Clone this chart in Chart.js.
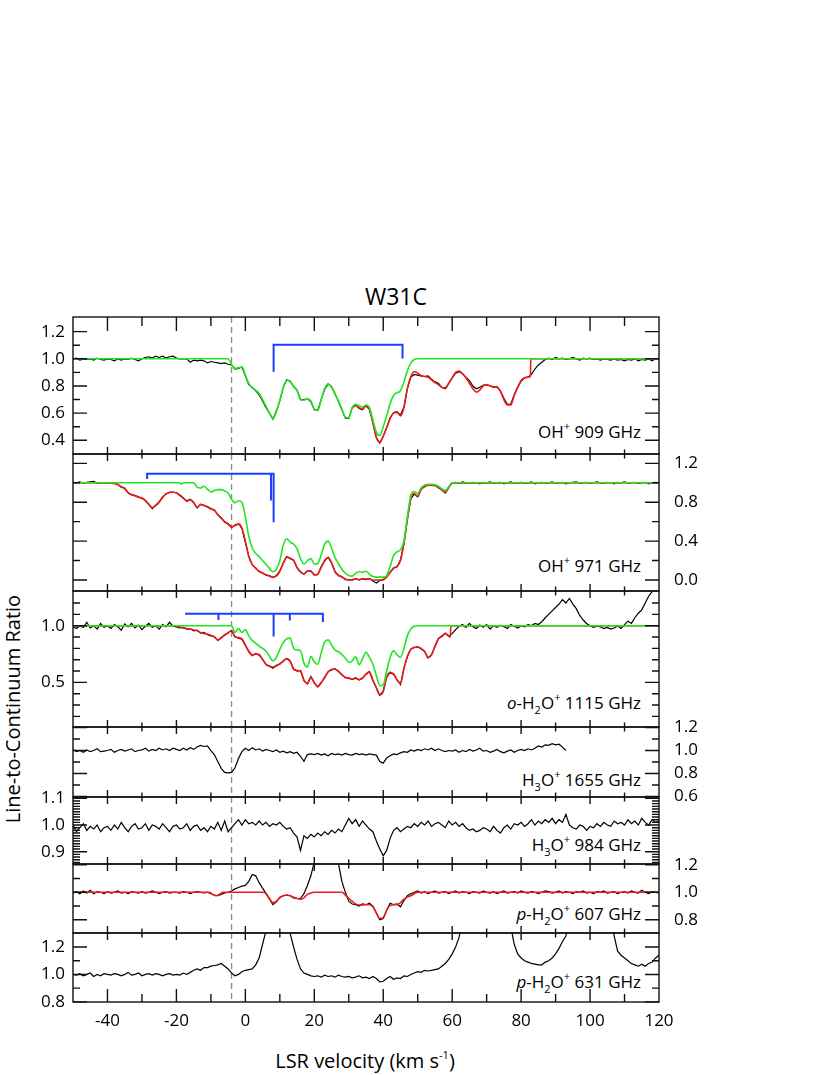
<!DOCTYPE html>
<html>
<head>
<meta charset="utf-8">
<title>W31C</title>
<script src="https://cdn.jsdelivr.net/npm/chart.js@4.4.0/dist/chart.umd.min.js"></script>
<style>
  body { margin: 0; background: #fff; }
  #wrap { position: relative; width: 830px; height: 1075px; font-family: 'Open Sans', sans-serif; color: #000; overflow: hidden; }
  #wrap canvas { position: absolute; left: 0; }
  .lbl { position: absolute; font-size: 17px; line-height: 20px; white-space: nowrap; }
  .lbl sup { font-size: 11px; line-height: 0; position: relative; top: -1px; vertical-align: super; }
  .lbl sub { font-size: 11px; line-height: 0; position: relative; top: 1px; vertical-align: sub; }
  #title { left: 296px; top: 282px; width: 200px; text-align: center; font-size: 23px; line-height: 28px; }
  #xtitle { left: 215px; top: 1049px; width: 300px; text-align: center; font-size: 20px; line-height: 24px; }
  #ytitle { left: -137px; top: 697px; width: 300px; text-align: center; font-size: 20px; line-height: 24px; transform: rotate(-90deg); }
</style>
</head>
<body>
<div id="wrap">
  <div class="lbl" id="title">W31C</div>
  <div class="lbl" id="xtitle">LSR velocity (km s<sup>-1</sup>)</div>
  <div class="lbl" id="ytitle">Line-to-Continuum Ratio</div>
  <div class="lbl" style="right:189px; top:422px">OH<sup>+</sup> 909 GHz</div>
  <div class="lbl" style="right:189px; top:556px">OH<sup>+</sup> 971 GHz</div>
  <div class="lbl" style="right:189px; top:693px"><i>o</i>-H<sub>2</sub>O<sup>+</sup> 1115 GHz</div>
  <div class="lbl" style="right:189px; top:770px">H<sub>3</sub>O<sup>+</sup> 1655 GHz</div>
  <div class="lbl" style="right:189px; top:835px">H<sub>3</sub>O<sup>+</sup> 984 GHz</div>
  <div class="lbl" style="right:189px; top:904px"><i>p</i>-H<sub>2</sub>O<sup>+</sup> 607 GHz</div>
  <div class="lbl" style="right:189px; top:972px"><i>p</i>-H<sub>2</sub>O<sup>+</sup> 631 GHz</div>
</div>
<script>
// ---- data ----
const velocity = [
  -50,-49,-48,-47,-46,-45,-44,-43,-42,-41,
  -40,-39,-38,-37,-36,-35,-34,-33,-32,-31,
  -30,-29,-28,-27,-26,-25,-24,-23,-22,-21,
  -20,-19,-18,-17,-16,-15,-14,-13,-12,-11,
  -10,-9,-8,-7,-6,-5,-4,-3,-2,-1,
  0,1,2,3,4,5,6,7,8,9,
  10,11,12,13,14,15,16,17,18,19,
  20,21,22,23,24,25,26,27,28,29,
  30,31,32,33,34,35,36,37,38,39,
  40,41,42,43,44,45,46,47,48,49,
  50,51,52,53,54,55,56,57,58,59,
  60,61,62,63,64,65,66,67,68,69,
  70,71,72,73,74,75,76,77,78,79,
  80,81,82,83,84,85,86,87,88,89,
  90,91,92,93,94,95,96,97,98,99,
  100,101,102,103,104,105,106,107,108,109,
  110,111,112,113,114,115,116,117,118,119,
  120
];

// OH+ 909 GHz
const oh909Obs = [
  1.000,1.005,0.990,1.000,0.995,1.000,0.990,1.005,0.995,0.990,
  1.000,0.995,0.985,1.000,0.990,1.000,0.995,1.005,0.995,0.985,
  1.000,1.010,1.015,1.005,1.020,1.010,1.020,1.005,1.015,1.020,
  1.005,1.000,1.000,1.000,0.975,0.990,0.985,0.990,0.985,0.970,
  0.980,0.975,0.970,0.965,0.970,0.960,0.955,0.925,0.930,0.940,
  0.875,0.810,0.790,0.765,0.735,0.690,0.640,0.600,0.555,0.615,
  0.690,0.790,0.845,0.835,0.795,0.770,0.700,0.700,0.705,0.685,
  0.625,0.620,0.700,0.775,0.815,0.795,0.745,0.685,0.625,0.565,
  0.560,0.640,0.660,0.635,0.625,0.655,0.625,0.530,0.420,0.380,
  0.430,0.495,0.565,0.605,0.610,0.585,0.645,0.780,0.865,0.885,
  0.880,0.875,0.870,0.875,0.850,0.830,0.820,0.790,0.785,0.820,
  0.860,0.895,0.905,0.890,0.865,0.840,0.800,0.780,0.790,0.805,
  0.810,0.800,0.790,0.795,0.765,0.710,0.665,0.665,0.735,0.790,
  0.835,0.860,0.865,0.885,0.925,0.955,0.975,0.995,1.005,0.995,
  1.010,1.000,1.005,0.995,1.000,1.010,1.000,0.990,1.005,1.000,
  1.005,0.995,1.000,0.990,1.000,0.995,0.990,1.000,0.990,0.995,
  0.985,0.995,0.990,1.000,0.985,0.995,0.990,1.000,0.985,1.000,
  0.995
];
const oh909FitV = [
  31,32,33,34,35,36,37,38,39,40,41,42,43,44,45,46,47,48,49,50,
  51,52,53,54,55,56,57,58,59,60,61,62,63,64,65,66,67,68,69,70,
  71,72,73,74,75,76,77,78,79,80,81,82,82.7,82.8,120
];
const oh909Fit = [
  0.64,0.655,0.64,0.63,0.655,0.63,0.53,0.42,0.385,0.43,0.49,0.56,0.60,0.605,0.58,0.64,0.78,0.87,0.905,0.895,
  0.875,0.87,0.865,0.845,0.825,0.81,0.79,0.78,0.82,0.86,0.90,0.91,0.89,0.86,0.82,0.78,0.755,0.77,0.80,0.81,
  0.80,0.795,0.79,0.76,0.70,0.66,0.66,0.73,0.79,0.84,0.86,0.865,0.87,1.0,1.0
];
const oh909PartV = [
  -50,-5,-4,-3,-2,-1,0,1,2,3,4,5,6,7,8,9,10,11,12,13,14,15,16,17,18,19,
  20,21,22,23,24,25,26,27,28,29,30,31,32,33,34,35,36,37,38,39,
  40,41,42,43,44,45,46,47,48,49,50,120
];
const oh909Part = [
  1.0,1.0,0.96,0.928,0.935,0.94,0.88,0.82,0.785,0.77,0.745,0.70,0.65,0.60,0.56,0.61,0.694,0.79,0.842,0.83,0.80,0.765,0.70,0.695,0.705,0.69,
  0.63,0.62,0.70,0.78,0.815,0.79,0.74,0.69,0.63,0.57,0.565,0.64,0.665,0.655,0.645,0.66,0.64,0.55,0.46,0.435,
  0.50,0.58,0.67,0.73,0.75,0.765,0.83,0.91,0.97,0.995,1.0,1.0
];
const oh909BracketV = [8.2, 8.2, 45.6, 45.6];
const oh909BracketY = [0.905, 1.104, 1.104, 1.002];

// OH+ 971 GHz
const oh971Obs = [
  1.005,1.000,1.010,0.995,1.005,1.010,1.015,0.995,1.000,1.000,
  1.000,0.995,0.990,0.985,0.955,0.945,0.895,0.875,0.870,0.850,
  0.845,0.815,0.775,0.735,0.770,0.805,0.855,0.885,0.905,0.900,
  0.900,0.870,0.840,0.815,0.830,0.795,0.740,0.780,0.765,0.755,
  0.735,0.720,0.670,0.640,0.595,0.580,0.540,0.565,0.580,0.530,
  0.390,0.245,0.155,0.125,0.085,0.075,0.050,0.045,0.025,0.045,
  0.095,0.175,0.240,0.220,0.205,0.125,0.085,0.060,0.095,0.090,
  0.055,0.055,0.135,0.195,0.235,0.175,0.090,0.045,0.035,0.005,
  0.005,0.000,0.015,0.000,0.015,0.005,0.015,-0.010,-0.030,-0.005,
  0.000,0.035,0.075,0.125,0.135,0.205,0.375,0.625,0.835,0.885,
  0.855,0.935,0.960,0.980,0.970,0.975,0.950,0.925,0.895,0.955,
  1.000,1.005,0.995,1.010,1.000,0.995,1.005,1.000,0.990,1.005,
  1.000,1.010,0.995,1.000,1.005,0.990,1.000,1.010,0.995,1.000,
  1.005,0.995,1.000,1.010,0.990,1.000,1.005,0.995,1.000,1.010,
  0.995,1.000,1.005,0.990,1.000,1.005,1.010,0.995,1.000,1.005,
  0.995,1.000,1.010,1.000,0.995,1.005,1.000,0.990,1.005,1.000,
  1.010,0.995,1.000,1.005,0.995,1.000,1.005,0.990,1.000,1.005,
  1.000
];
const oh971FitV = [
  -50,
  -40,-39,-38,-37,-36,-35,-34,-33,-32,-31,
  -30,-29,-28,-27,-26,-25,-24,-23,-22,-21,
  -20,-19,-18,-17,-16,-15,-14,-13,-12,-11,
  -10,-9,-8,-7,-6,-5,-4,-3,-2,-1,
  0,1,2,3,4,5,6,7,8,9,
  10,11,12,13,14,15,16,17,18,19,
  20,21,22,23,24,25,26,27,28,29,
  30,31,32,33,34,35,36,37,38,39,
  40,41,42,43,44,45,46,47,48,49,
  50,51,52,53,54,55,56,57,58,59,
  60,120
];
const oh971Fit = [
  1.0,
  1.0,1.0,0.995,0.98,0.96,0.94,0.90,0.88,0.865,0.855,
  0.84,0.82,0.78,0.745,0.765,0.80,0.85,0.885,0.90,0.905,
  0.895,0.875,0.845,0.81,0.825,0.80,0.745,0.775,0.77,0.75,
  0.73,0.715,0.675,0.635,0.60,0.575,0.545,0.56,0.575,0.535,
  0.40,0.24,0.16,0.12,0.09,0.07,0.055,0.04,0.03,0.04,
  0.09,0.17,0.235,0.225,0.20,0.13,0.08,0.065,0.09,0.095,
  0.05,0.06,0.13,0.20,0.23,0.18,0.085,0.05,0.03,0.01,
  0.0,0.005,0.01,0.005,0.01,0.01,0.01,0.0,0.0,0.0,
  0.005,0.03,0.08,0.12,0.14,0.20,0.38,0.62,0.84,0.89,
  0.86,0.93,0.965,0.975,0.975,0.97,0.955,0.93,0.90,0.95,
  0.995,1.0
];
const oh971PartV = [
  -50,-19,-18.5,-18,-15,
  -14,-13,-12,-11,-10,-9,-8,-7,-6,-5,
  -4,-3,-2,-1,0,1,2,3,4,5,
  6,7,8,9,10,11,12,13,14,15,
  16,17,18,19,20,21,22,23,24,25,
  26,27,28,29,30,31,32,33,34,35,
  36,37,38,39,40,41,42,43,44,45,
  46,47,48,49,50,51,52,53,54,55,
  56,57,58,59,60,120
];
const oh971Part = [
  1.0,1.0,0.985,1.0,1.0,
  0.955,0.945,0.965,0.935,0.905,0.92,0.93,0.93,0.915,0.895,
  0.83,0.795,0.815,0.80,0.65,0.45,0.33,0.275,0.24,0.20,
  0.16,0.12,0.085,0.11,0.20,0.36,0.425,0.39,0.37,0.32,
  0.22,0.165,0.20,0.22,0.165,0.17,0.26,0.37,0.40,0.33,
  0.23,0.17,0.11,0.07,0.045,0.04,0.07,0.085,0.08,0.09,
  0.06,0.035,0.03,0.03,0.03,0.045,0.14,0.25,0.29,0.31,
  0.40,0.65,0.87,0.91,0.89,0.95,0.975,0.985,0.985,0.98,
  0.965,0.94,0.92,0.96,1.0,1.0
];
const oh971BracketV = [-28.5, -28.5, 8.2, 8.2];
const oh971BracketY = [1.038, 1.093, 1.093, 0.595];
const oh971TickV = [7.45, 7.45];
const oh971TickY = [1.093, 0.819];

// o-H2O+ 1115 GHz
const h2o1115Obs = [
  0.990,0.975,1.000,0.985,1.030,0.980,1.000,0.970,1.020,0.985,
  1.000,0.975,1.010,0.990,0.960,1.015,0.990,1.020,0.980,1.005,
  0.965,0.995,1.020,0.985,1.000,0.970,1.010,0.990,1.030,0.995,
  0.990,0.980,0.985,0.970,0.975,0.955,0.960,0.935,0.940,0.920,
  0.910,0.905,0.870,0.895,0.915,0.940,0.955,0.905,0.890,0.880,
  0.825,0.775,0.735,0.755,0.740,0.705,0.655,0.645,0.625,0.650,
  0.660,0.690,0.710,0.685,0.620,0.600,0.605,0.515,0.485,0.550,
  0.495,0.460,0.500,0.540,0.595,0.610,0.620,0.595,0.570,0.540,
  0.540,0.525,0.540,0.520,0.540,0.570,0.595,0.515,0.455,0.385,
  0.425,0.545,0.590,0.570,0.525,0.480,0.625,0.725,0.795,0.805,
  0.815,0.795,0.775,0.715,0.745,0.815,0.885,0.905,0.935,0.905,
  0.930,0.965,0.995,1.010,0.985,1.020,0.990,0.975,1.005,0.985,
  1.010,0.970,1.000,0.985,1.005,0.990,0.975,1.010,0.995,0.980,
  1.000,0.990,1.010,1.000,1.020,1.010,1.035,1.070,1.100,1.130,
  1.160,1.190,1.230,1.200,1.240,1.190,1.150,1.090,1.050,1.020,
  1.000,0.985,0.995,0.990,0.975,0.985,0.970,0.980,1.000,0.975,
  1.010,1.040,1.020,1.070,1.110,1.140,1.200,1.260,1.300,1.340,
  1.380
];
const h2o1115FitV = [
  -50,
  -20,-19,-18,-17,-16,-15,-14,-13,-12,-11,
  -10,-9,-8,-7,-6,-5,-4,-3,-2,-1,
  0,1,2,3,4,5,6,7,8,9,
  10,11,12,13,14,15,16,17,18,19,
  20,21,22,23,24,25,26,27,28,29,
  30,31,32,33,34,35,36,37,38,39,
  40,41,42,43,44,45,46,47,48,49,
  50,51,52,53,54,55,56,57,58,59,
  59.5,59.6,120
];
const h2o1115Fit = [
  1.0,
  1.0,0.99,0.98,0.975,0.97,0.962,0.955,0.94,0.932,0.925,
  0.915,0.90,0.875,0.89,0.92,0.935,0.96,0.90,0.895,0.885,
  0.83,0.77,0.74,0.75,0.745,0.70,0.66,0.64,0.635,0.645,
  0.665,0.685,0.71,0.69,0.615,0.605,0.60,0.52,0.49,0.545,
  0.50,0.46,0.495,0.545,0.59,0.615,0.615,0.60,0.565,0.545,
  0.535,0.53,0.535,0.525,0.535,0.575,0.59,0.52,0.45,0.39,
  0.42,0.55,0.585,0.575,0.52,0.49,0.62,0.73,0.79,0.81,
  0.81,0.80,0.77,0.72,0.74,0.82,0.885,0.91,0.93,0.91,
  0.90,1.0,1.0
];
const h2o1115PartV = [
  -50,
  -4,-3,-2,-1,0,1,2,3,4,5,
  6,7,8,9,10,11,12,13,14,15,
  16,17,18,19,20,21,22,23,24,25,
  26,27,28,29,30,31,32,33,34,35,
  36,37,38,39,40,41,42,43,44,45,
  46,47,48,49,50,120
];
const h2o1115Part = [
  1.0,
  1.0,0.94,0.975,0.94,0.965,0.91,0.87,0.845,0.82,0.80,
  0.775,0.73,0.69,0.72,0.79,0.85,0.885,0.89,0.80,0.785,
  0.78,0.67,0.635,0.73,0.68,0.66,0.76,0.855,0.875,0.83,
  0.785,0.77,0.745,0.715,0.675,0.69,0.725,0.655,0.71,0.765,
  0.72,0.66,0.56,0.47,0.48,0.60,0.72,0.78,0.745,0.72,
  0.80,0.91,0.97,0.995,1.0,1.0
];
const h2o1115BracketV = [-17.5, -7.8, -7.8, -7.8, 8.2, 8.2, 8.2, 12.9, 12.9, 12.9, 22.5, 22.5];
const h2o1115BracketY = [1.106, 1.106, 1.05, 1.106, 1.106, 0.905, 1.106, 1.106, 1.046, 1.106, 1.106, 1.032];

// H3O+ 1655 GHz (ends near 94 km/s)
const h3o1655Obs = [
  1.010,0.990,1.000,0.985,1.005,0.990,1.000,1.015,0.990,0.995,
  1.000,1.010,0.985,1.000,1.010,0.995,1.005,1.015,0.990,1.000,
  1.005,1.020,0.995,1.010,1.000,1.020,1.005,1.015,1.000,1.020,
  1.010,1.000,1.020,1.005,1.025,1.010,1.030,1.045,1.035,1.040,
  1.000,0.965,0.905,0.845,0.810,0.805,0.810,0.850,0.930,0.990,
  1.020,1.000,1.025,1.005,1.015,0.995,1.010,1.000,0.990,1.005,
  0.985,0.995,0.980,0.990,0.975,0.985,0.950,0.905,0.965,0.970,
  0.965,0.975,0.960,0.970,0.955,0.975,0.965,0.970,0.960,0.975,
  0.965,0.960,0.975,0.965,0.970,0.960,0.970,0.965,0.960,0.905,
  0.890,0.935,0.955,0.970,0.965,0.980,0.990,0.985,1.005,0.995,
  1.010,1.000,1.015,1.005,1.020,1.000,1.015,1.000,0.990,1.000,
  0.995,1.005,0.985,1.000,0.990,1.010,0.995,1.005,1.020,0.995,
  1.000,0.985,0.995,1.010,0.990,0.980,0.995,1.005,0.985,1.000,
  1.010,1.000,1.015,1.005,1.020,1.040,1.030,1.050,1.045,1.060,
  1.050,1.055,1.030,1.000
];

// H3O+ 984 GHz
const h3o984Obs = [
  1.000,0.975,0.990,1.005,0.980,0.995,0.985,1.000,0.975,0.990,
  0.995,0.980,1.000,0.985,1.010,0.990,0.975,0.995,1.005,0.985,
  0.990,1.005,0.980,1.000,0.995,0.985,1.005,0.990,0.975,0.995,
  1.000,0.985,0.990,1.005,0.980,0.995,1.000,0.980,0.990,0.975,
  0.995,0.985,1.010,0.980,1.015,0.975,0.990,1.005,1.020,1.000,
  1.020,1.005,1.010,1.000,1.015,1.000,1.010,0.995,1.005,1.000,
  1.010,0.995,0.985,0.990,0.970,0.955,0.905,0.960,0.950,0.965,
  0.955,0.970,0.960,0.975,0.965,0.980,0.970,0.985,0.975,1.000,
  1.025,1.005,1.020,0.995,1.015,1.000,0.985,0.975,0.940,0.910,
  0.885,0.905,0.950,0.980,0.990,0.975,0.985,0.995,0.990,1.005,
  0.995,1.010,1.000,1.015,0.995,1.005,1.010,1.000,0.990,1.015,
  1.000,1.010,0.995,1.005,0.990,0.980,0.985,0.975,0.980,0.990,
  0.985,0.975,0.995,0.980,0.970,0.990,1.000,0.985,1.005,1.000,
  1.010,0.995,1.005,1.020,1.000,1.015,1.005,1.020,1.010,1.025,
  1.005,1.020,1.010,1.040,1.000,0.990,0.985,1.000,0.995,0.980,
  0.995,0.990,1.005,0.995,1.010,1.000,0.995,1.015,1.005,1.010,
  1.000,1.020,1.005,1.015,1.000,1.025,1.010,1.000,1.020,1.010,
  1.015
];

// p-H2O+ 607 GHz
const h2o607Obs = [
  0.995,1.005,0.990,1.010,0.995,1.015,0.990,1.005,1.000,0.990,
  1.005,0.995,1.000,1.010,0.995,1.000,0.990,1.005,1.000,0.995,
  1.005,0.995,1.000,1.010,1.000,0.990,1.000,1.005,0.995,1.000,
  1.000,0.995,1.005,1.000,0.990,1.000,1.005,1.000,0.995,1.000,
  0.990,0.980,0.975,0.985,0.995,1.000,1.010,1.025,1.035,1.045,
  1.050,1.080,1.130,1.120,1.070,1.030,0.990,0.950,0.910,0.930,
  0.965,0.975,0.980,0.975,0.960,0.955,0.955,0.990,1.050,1.120,
  1.220,1.400,1.500,1.500,1.500,1.500,1.400,1.210,1.080,1.000,
  0.935,0.915,0.910,0.900,0.915,0.910,0.920,0.900,0.850,0.800,
  0.810,0.870,0.920,0.910,0.915,0.895,0.940,0.975,0.990,1.000,
  1.010,0.995,1.005,0.990,1.000,1.010,0.995,1.000,1.005,0.990,
  1.000,1.010,0.995,1.005,1.000,0.990,1.005,1.000,0.995,1.010,
  1.000,0.995,1.005,0.990,1.000,1.010,0.995,1.000,1.005,0.995,
  1.010,1.000,0.995,1.005,1.000,0.990,1.000,1.010,1.005,0.995,
  1.000,1.010,0.995,1.005,1.000,0.990,1.005,1.000,1.010,0.995,
  1.000,0.990,1.005,1.000,1.010,0.995,1.000,1.005,0.990,1.000,
  1.005,0.995,1.010,1.000,0.995,1.015,1.000,0.990,1.005,1.000,
  0.995
];
const h2o607FitV = [
  -50,-10.5,-9.5,-8.5,-7.5,-6.5,5,
  6,7,8,9,10,11,12,13,14,15,16,17,18,19,20,
  27,
  28,29,30,31,32,33,34,35,36,37,38,39,40,41,42,43,44,45,46,47,48,49,50,
  120
];
const h2o607Fit = [
  1.0,1.0,0.985,0.975,0.985,1.0,1.0,
  0.99,0.955,0.925,0.935,0.96,0.975,0.98,0.975,0.965,0.955,0.95,0.96,0.985,0.995,1.0,
  1.0,
  1.0,0.98,0.955,0.935,0.915,0.908,0.908,0.91,0.91,0.895,0.85,0.81,0.815,0.87,0.905,0.91,0.91,0.925,0.95,0.965,0.975,0.99,1.0,
  1.0
];

// p-H2O+ 631 GHz
const h2o631Obs = [
  1.000,0.995,1.005,0.990,1.000,1.010,0.985,1.000,0.990,1.005,
  1.000,0.995,1.005,1.000,0.990,1.000,1.015,0.995,1.000,1.010,
  0.990,1.000,1.005,0.995,1.005,1.000,0.990,1.000,1.005,0.995,
  1.000,0.995,1.010,1.000,1.015,1.030,1.040,1.030,1.050,1.050,
  1.060,1.065,1.070,1.080,1.060,1.040,1.010,0.990,1.000,1.020,
  1.030,1.035,1.040,1.070,1.120,1.220,1.320,1.500,1.500,1.500,
  1.500,1.500,1.500,1.300,1.200,1.110,1.040,1.010,1.000,0.990,
  0.985,0.990,0.980,0.995,0.985,0.990,0.980,0.995,0.985,0.980,
  0.985,0.975,0.980,0.990,0.975,0.980,0.970,0.985,0.970,0.945,
  0.950,0.970,0.985,0.965,0.975,0.970,0.990,0.985,1.000,1.010,
  1.020,1.015,1.030,1.025,1.030,1.035,1.040,1.060,1.080,1.110,
  1.150,1.200,1.270,1.400,1.500,1.500,1.500,1.500,1.500,1.500,
  1.500,1.500,1.500,1.500,1.500,1.500,1.500,1.350,1.220,1.150,
  1.120,1.100,1.090,1.080,1.075,1.070,1.070,1.090,1.100,1.120,
  1.150,1.190,1.240,1.280,1.400,1.500,1.500,1.500,1.500,1.500,
  1.500,1.500,1.500,1.500,1.500,1.500,1.400,1.280,1.170,1.140,
  1.120,1.100,1.080,1.070,1.060,1.075,1.060,1.080,1.090,1.120,
  1.140
];

// axes
const xTickMarks = [-40, -30, -20, -10, 0, 10, 20, 30, 40, 50, 60, 70, 80, 90, 100, 110];
const xTickLabels = [-40, -20, 0, 20, 40, 60, 80, 100, 120];
const markerVelocity = -4;
const yMin = [0.299, -0.113, 0.106, 0.595, 0.854, 0.704, 0.799];
const yMax = [1.308, 1.296, 1.306, 1.205, 1.105, 1.206, 1.302];
const yLabelSide = ['left', 'right', 'left', 'right', 'left', 'right', 'left'];
const yTickLabels = [
  [0.4, 0.6, 0.8, 1.0, 1.2],
  [0.0, 0.4, 0.8, 1.2],
  [0.5, 1.0],
  [0.6, 0.8, 1.0, 1.2],
  [0.9, 1.0, 1.1],
  [0.8, 1.0, 1.2],
  [0.8, 1.0, 1.2]
];
const yMinorTicks = [
  [0.5, 0.7, 0.9, 1.1],
  [0.2, 0.6, 1.0],
  [0.2, 0.3, 0.4, 0.6, 0.7, 0.8, 0.9, 1.1, 1.2],
  [0.7, 0.9, 1.1],
  [0.86, 0.87, 0.88, 0.89, 0.91, 0.92, 0.93, 0.94, 0.95, 0.96, 0.97, 0.98, 0.99,
   1.01, 1.02, 1.03, 1.04, 1.05, 1.06, 1.07, 1.08, 1.09],
  [0.9, 1.1],
  [0.9, 1.1]
];

// ---- layout ----
const panelTop    = [317, 454, 591, 727, 797, 864, 933];
const panelBottom = [454, 591, 727, 797, 864, 933, 1002];
const PAD = 14;
const topTick    = [[14, 9], [7, 4.5], [7, 4.5], [7, 4.5], [7, 4.5], [7, 4.5], [7, 4.5]];
const bottomTick = [[7, 4.5], [7, 4.5], [7, 4.5], [7, 4.5], [7, 4.5], [7, 4.5], [13, 8]];

const BLACK = '#000000', RED = '#ee1c1c', GREEN = '#22e622', BLUE = '#1c3cff';
const FONT = "'Open Sans', sans-serif";

function pts(xs, ys) {
    const out = [];
    const n = Math.min(xs.length, ys.length);
    for (let i = 0; i < n; i++) out.push({ x: xs[i], y: ys[i] });
    return out;
}

function series(xs, ys, color, width, smooth) {
    return {
        data: pts(xs, ys),
        borderColor: color,
        borderWidth: width,
        pointRadius: 0,
        fill: false,
        tension: 0,
        cubicInterpolationMode: smooth ? 'monotone' : 'default'
    };
}

// first in the list is drawn on top
const panelSets = [
    [series(oh909BracketV, oh909BracketY, BLUE, 2),
     series(oh909PartV, oh909Part, GREEN, 1.6, true),
     series(oh909FitV, oh909Fit, RED, 1.6, true),
     series(velocity, oh909Obs, BLACK, 1.2)],
    [series(oh971BracketV, oh971BracketY, BLUE, 2),
     series(oh971TickV, oh971TickY, BLUE, 2),
     series(oh971PartV, oh971Part, GREEN, 1.6, true),
     series(oh971FitV, oh971Fit, RED, 1.6, true),
     series(velocity, oh971Obs, BLACK, 1.2)],
    [series(h2o1115BracketV, h2o1115BracketY, BLUE, 2),
     series(h2o1115PartV, h2o1115Part, GREEN, 1.6, true),
     series(h2o1115FitV, h2o1115Fit, RED, 1.6, true),
     series(velocity, h2o1115Obs, BLACK, 1.2)],
    [series(velocity, h3o1655Obs, BLACK, 1.2)],
    [series(velocity, h3o984Obs, BLACK, 1.2)],
    [series(h2o607FitV, h2o607Fit, RED, 1.6, true),
     series(velocity, h2o607Obs, BLACK, 1.2)],
    [series(velocity, h2o631Obs, BLACK, 1.2)]
];

function framePlugin(i) {
    return {
        id: 'panelFrame' + i,
        beforeDatasetsDraw(chart) {
            const { ctx, chartArea: a, scales } = chart;
            const px = scales.x.getPixelForValue(markerVelocity);
            ctx.save();
            ctx.strokeStyle = '#8a8a8a';
            ctx.lineWidth = 1.3;
            ctx.setLineDash([6, 4]);
            ctx.beginPath();
            ctx.moveTo(px, a.top);
            ctx.lineTo(px, a.bottom);
            ctx.stroke();
            ctx.restore();
        },
        afterDatasetsDraw(chart) {
            const { ctx, chartArea: a, scales } = chart;
            ctx.save();
            ctx.strokeStyle = '#111';
            ctx.lineWidth = 1.4;
            ctx.beginPath();
            xTickMarks.forEach(v => {
                const p = scales.x.getPixelForValue(v);
                const major = xTickLabels.includes(v);
                const lt = major ? topTick[i][0] : topTick[i][1];
                const lb = major ? bottomTick[i][0] : bottomTick[i][1];
                ctx.moveTo(p, a.top); ctx.lineTo(p, a.top + lt);
                ctx.moveTo(p, a.bottom); ctx.lineTo(p, a.bottom - lb);
            });
            const yTick = (v, len) => {
                const p = scales.y.getPixelForValue(v);
                ctx.moveTo(a.left, p); ctx.lineTo(a.left + len, p);
                ctx.moveTo(a.right, p); ctx.lineTo(a.right - len, p);
            };
            yTickLabels[i].forEach(v => yTick(v, 14));
            yMinorTicks[i].forEach(v => yTick(v, 7));
            ctx.stroke();
            ctx.strokeRect(a.left, a.top, a.right - a.left, a.bottom - a.top);
            ctx.restore();
        }
    };
}

// keep tick labels from pushing the plot area inward
function noPadding(s) {
    s.paddingTop = 0;
    s.paddingBottom = 0;
    s.paddingLeft = 0;
    s.paddingRight = 0;
}

const wrap = document.getElementById('wrap');

panelSets.forEach((datasets, i) => {
    const isLast = i === panelSets.length - 1;
    const top = panelTop[i] - PAD;
    const plotH = panelBottom[i] - panelTop[i];
    const h = isLast ? 1075 - top : plotH + 2 * PAD;
    const xAxisH = isLast ? h - PAD - plotH : 0;

    const canvas = document.createElement('canvas');
    canvas.width = 830;
    canvas.height = h;
    canvas.style.top = top + 'px';
    canvas.style.width = '830px';
    canvas.style.height = h + 'px';
    wrap.appendChild(canvas);

    const yTicks = side => ({
        display: yLabelSide[i] === side,
        color: '#000',
        padding: side === 'left' ? 8 : 15,
        autoSkip: false,
        font: { family: FONT, size: 17 },
        callback: v => Number(v).toFixed(1)
    });

    new Chart(canvas, {
        type: 'line',
        data: { datasets: datasets },
        options: {
            responsive: false,
            animation: false,
            devicePixelRatio: 1,
            events: [],
            layout: { padding: { top: PAD, bottom: isLast ? 0 : PAD, left: 0, right: 0 } },
            plugins: { legend: { display: false }, tooltip: { enabled: false } },
            scales: {
                x: {
                    type: 'linear',
                    min: -50, max: 120,
                    display: isLast,
                    grid: { display: false, drawTicks: false },
                    border: { display: false },
                    afterBuildTicks: s => { s.ticks = xTickLabels.map(v => ({ value: v })); },
                    afterFit: s => { s.height = xAxisH; noPadding(s); },
                    ticks: {
                        color: '#000',
                        padding: 9,
                        maxRotation: 0,
                        autoSkip: false,
                        font: { family: FONT, size: 17 },
                        callback: v => String(v)
                    }
                },
                y: {
                    type: 'linear',
                    position: 'left',
                    min: yMin[i], max: yMax[i],
                    grid: { display: false, drawTicks: false },
                    border: { display: false },
                    afterBuildTicks: s => { s.ticks = yTickLabels[i].map(v => ({ value: v })); },
                    afterFit: s => { s.width = 73; noPadding(s); },
                    ticks: yTicks('left')
                },
                y2: {
                    type: 'linear',
                    position: 'right',
                    min: yMin[i], max: yMax[i],
                    grid: { display: false, drawTicks: false },
                    border: { display: false },
                    afterBuildTicks: s => { s.ticks = yTickLabels[i].map(v => ({ value: v })); },
                    afterFit: s => { s.width = 171; noPadding(s); },
                    ticks: yTicks('right')
                }
            }
        },
        plugins: [framePlugin(i)]
    });
});
</script>
</body>
</html>
